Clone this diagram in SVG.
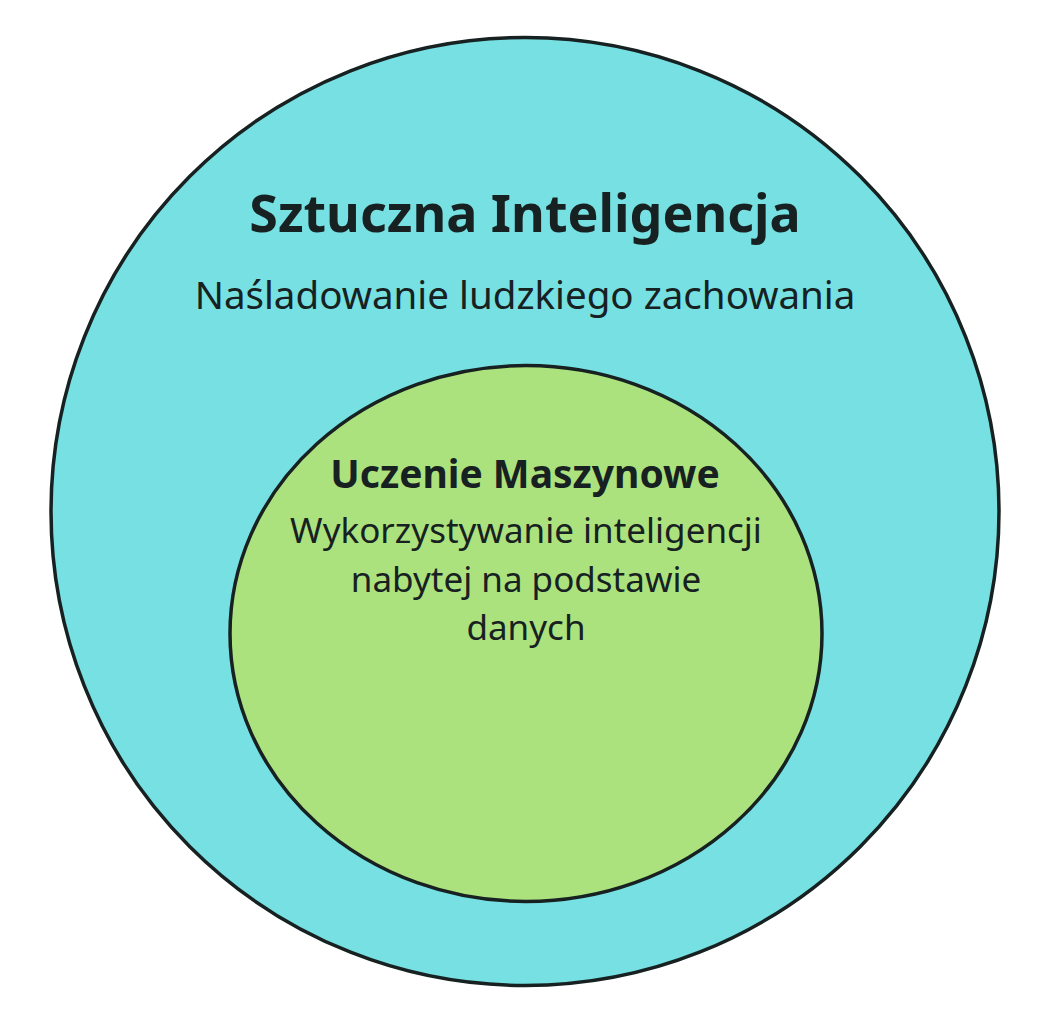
<svg xmlns="http://www.w3.org/2000/svg" width="1052" height="1024" viewBox="0 0 1052 1024">
<style>
.c{stroke:#172121;stroke-width:3.5}
.t{font-family:"Noto Sans","Open Sans",sans-serif;fill:#172121;text-anchor:middle}
.b{font-weight:700}
</style>
<rect width="1052" height="1024" fill="#ffffff"/>
<g id="ai">
<circle class="c" cx="525" cy="511.5" r="474" fill="#76E0E2"/>
<text class="t b" x="525" y="232" font-size="52">Sztuczna Inteligencja</text>
<text class="t" x="525" y="309" font-size="38.5">Naśladowanie ludzkiego zachowania</text>
</g>
<g id="ml">
<ellipse class="c" cx="526" cy="633.5" rx="296" ry="268" fill="#ACE27E"/>
<text class="t b" x="525" y="488" font-size="39">Uczenie Maszynowe</text>
<text class="t" x="526" y="543" font-size="35">Wykorzystywanie inteligencji</text>
<text class="t" x="526" y="592" font-size="35">nabytej na podstawie</text>
<text class="t" x="526" y="640" font-size="35">danych</text>
</g>
<g id="connectors"/>
</svg>
